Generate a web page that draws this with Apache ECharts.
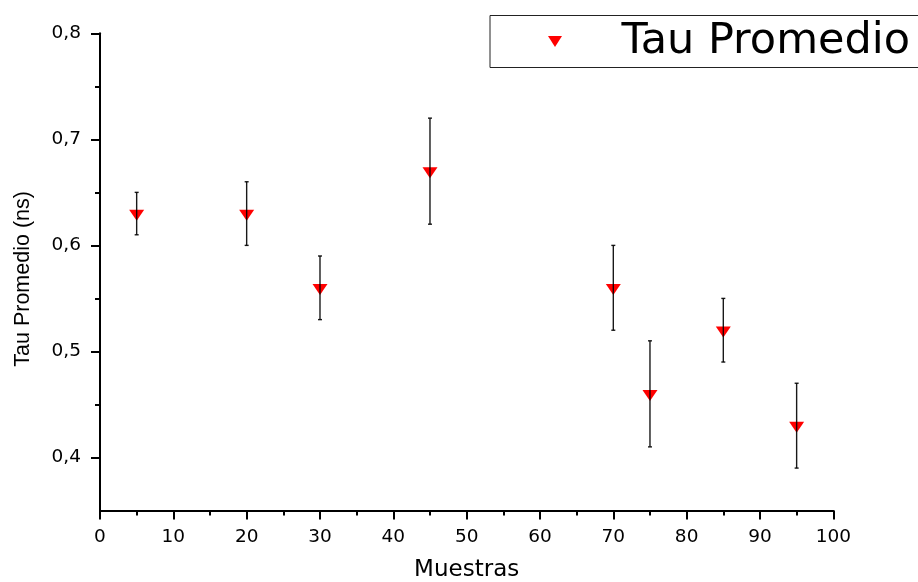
<!DOCTYPE html>
<html>
<head>
<meta charset="utf-8">
<script src="https://cdn.jsdelivr.net/npm/echarts@6/dist/echarts.min.js"></script>
<style>
  html, body { margin: 0; padding: 0; background: #fff; }
  #chart { width: 918px; height: 582px; }
</style>
</head>
<body>
<div id="chart"></div>
<script>
// Samples (x), mean lifetime (ns) and its uncertainty
const muestras = [5, 20, 30, 45, 70, 75, 85, 95];
const tauPromedio = [0.63, 0.63, 0.56, 0.67, 0.56, 0.46, 0.52, 0.43];
const tauError = [0.02, 0.03, 0.03, 0.05, 0.04, 0.05, 0.03, 0.04];

const yMajorTicks = [0.4, 0.5, 0.6, 0.7, 0.8];
const yMinorTicks = [0.45, 0.55, 0.65, 0.75];

const seriesName = 'Tau Promedio';
const xTitle = 'Muestras';
const yTitle = 'Tau Promedio (ns)';

const FONT = 'DejaVu Sans';
const downTriangle = 'path://M0,0L14,0L7,11Z';

const scatterData = muestras.map((x, i) => [x, tauPromedio[i]]);
const errorData = muestras.map((x, i) => [x, tauPromedio[i] - tauError[i], tauPromedio[i] + tauError[i]]);

const chart = echarts.init(document.getElementById('chart'), null, { renderer: 'canvas' });

const axisLine = { show: true, onZero: false, lineStyle: { color: '#000', width: 2 } };

chart.setOption({
  backgroundColor: '#fff',
  animation: false,
  grid: {
    left: 100, right: 84.7, top: 33.3, bottom: 71.5,
    containLabel: false,
    outerBoundsMode: 'none'
  },
  legend: {
    left: 490, top: 15.5,
    orient: 'horizontal',
    selectedMode: false,
    padding: [4.5, 20, 4.5, 58],
    itemWidth: 15, itemHeight: 11,
    icon: downTriangle,
    borderColor: '#222', borderWidth: 1,
    backgroundColor: '#fff',
    textStyle: { fontFamily: FONT, fontSize: 43, color: '#000', padding: [0, 0, 0, 54], lineHeight: 42 },
    data: [seriesName]
  },
  xAxis: {
    type: 'value',
    min: 0, max: 100, interval: 10,
    axisLine: axisLine,
    axisTick: { show: true, inside: false, length: 9, lineStyle: { color: '#000', width: 2 } },
    minorTick: { show: true, splitNumber: 2, length: 5, lineStyle: { color: '#000', width: 2 } },
    splitLine: { show: false },
    minorSplitLine: { show: false },
    axisLabel: { fontFamily: FONT, fontSize: 18.5, color: '#000', margin: 17 },
    name: xTitle,
    nameLocation: 'middle',
    nameGap: 48,
    nameTextStyle: { fontFamily: FONT, fontSize: 23, color: '#000' }
  },
  yAxis: [
    {
      type: 'value',
      min: 0.35, max: 0.8,
      position: 'left',
      axisLine: axisLine,
      axisTick: { show: true, inside: false, length: 9, customValues: yMajorTicks, lineStyle: { color: '#000', width: 2 } },
      splitLine: { show: false },
      axisLabel: {
        fontFamily: FONT, fontSize: 18.5, color: '#000', margin: 19,
        customValues: yMajorTicks,
        formatter: v => v.toFixed(1).replace('.', ',')
      },
      name: yTitle,
      nameLocation: 'middle',
      nameGap: 66,
      nameTextStyle: { fontFamily: 'Liberation Sans', fontSize: 21.5, color: '#000', padding: [0, 14, 0, 0] }
    },
    {
      type: 'value',
      min: 0.35, max: 0.8,
      position: 'left',
      axisLine: { show: false },
      axisTick: { show: true, inside: false, length: 5, customValues: yMinorTicks, lineStyle: { color: '#000', width: 2 } },
      splitLine: { show: false },
      axisLabel: { show: false }
    }
  ],
  series: [
    {
      name: seriesName,
      type: 'scatter',
      data: scatterData,
      symbol: downTriangle,
      symbolSize: [15, 11],
      symbolOffset: [0, 1.7],
      itemStyle: { color: '#ff0000', opacity: 1 },
      z: 2
    },
    {
      name: 'error',
      type: 'custom',
      data: errorData,
      encode: { x: 0, y: [1, 2] },
      z: 3,
      silent: true,
      renderItem: function (params, api) {
        const x = api.value(0);
        const lo = api.coord([x, api.value(1)]);
        const hi = api.coord([x, api.value(2)]);
        const hw = 2;
        const style = { stroke: '#000', lineWidth: 1.4, opacity: 0.9 };
        return {
          type: 'group',
          children: [
            { type: 'line', shape: { x1: hi[0], y1: hi[1], x2: lo[0], y2: lo[1] }, style: style },
            { type: 'line', shape: { x1: hi[0] - hw, y1: hi[1], x2: hi[0] + hw, y2: hi[1] }, style: style },
            { type: 'line', shape: { x1: lo[0] - hw, y1: lo[1], x2: lo[0] + hw, y2: lo[1] }, style: style }
          ]
        };
      }
    }
  ]
});
</script>
</body>
</html>
